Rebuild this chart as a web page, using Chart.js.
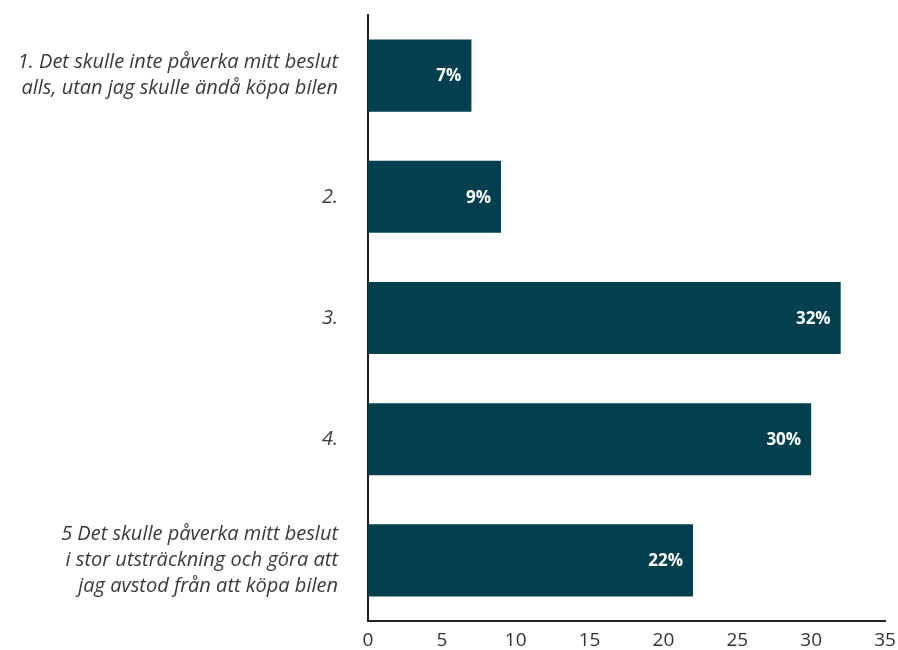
<!DOCTYPE html>
<html>
<head>
<meta charset="utf-8">
<script src="https://cdn.jsdelivr.net/npm/chart.js@4"></script>
<style>
  html, body { margin: 0; padding: 0; background: #fff; }
  #wrap { width: 898px; height: 650px; }
</style>
</head>
<body>
<div id="wrap"><canvas id="answerChart" width="898" height="650"></canvas></div>
<script>
// Svarsfördelning — horisontella staplar

const categories = [
    ["1. Det skulle inte påverka mitt beslut", "alls, utan jag skulle ändå köpa bilen"],
    "2.",
    "3.",
    "4.",
    ["5 Det skulle påverka mitt beslut", "i stor utsträckning och göra att", "jag avstod från att köpa bilen"]
];
const shares = [7, 9, 32, 30, 22];
const xTicks = [0, 5, 10, 15, 20, 25, 30, 35];

const barColor = "#02404f";
const textColor = "#333333";

/* ------------------------------
   Value labels inside bar ends
--------------------------------*/
const valueLabels = {
    id: "valueLabels",
    afterDatasetsDraw(chart) {
        const ctx = chart.ctx;
        const meta = chart.getDatasetMeta(0);
        ctx.save();
        ctx.fillStyle = "#ffffff";
        ctx.font = "bold 17px 'Open Sans'";
        ctx.textAlign = "right";
        ctx.textBaseline = "middle";
        meta.data.forEach((bar, i) => {
            ctx.fillText(shares[i] + "%", bar.x - 10, bar.y + 1);
        });
        ctx.restore();
    }
};

new Chart(document.getElementById("answerChart"), {
    type: "bar",
    data: {
        labels: categories,
        datasets: [{
            data: shares,
            backgroundColor: barColor,
            borderWidth: 0,
            barPercentage: 1,
            categoryPercentage: 0.595
        }]
    },
    options: {
        indexAxis: "y",
        responsive: false,
        animation: false,
        layout: { padding: { top: 15, right: 13, left: 0, bottom: 0 } },
        plugins: {
            legend: { display: false },
            tooltip: { enabled: false }
        },
        scales: {
            x: {
                min: 0,
                max: 35,
                afterBuildTicks: (scale) => {
                    scale.ticks = xTicks.map(v => ({ value: v }));
                },
                afterFit: (scale) => {
                    scale.height = 29;
                    scale.paddingLeft = 0;
                    scale.paddingRight = 0;
                },
                grid: { display: false },
                border: { display: true, color: "#222222", width: 2 },
                ticks: {
                    color: textColor,
                    padding: 1,
                    maxRotation: 0,
                    font: { family: "'Open Sans'", size: 19, lineHeight: 1.1 }
                }
            },
            y: {
                afterFit: (scale) => {
                    scale.width = 368;
                    scale.paddingTop = 0;
                    scale.paddingBottom = 0;
                },
                grid: { display: false },
                border: { display: true, color: "#222222", width: 2 },
                ticks: {
                    color: "#3a3a3a",
                    padding: 22,
                    font: { family: "'Open Sans'", size: 20, style: "italic", lineHeight: 1.3 }
                }
            }
        }
    },
    plugins: [valueLabels]
});
</script>
</body>
</html>
